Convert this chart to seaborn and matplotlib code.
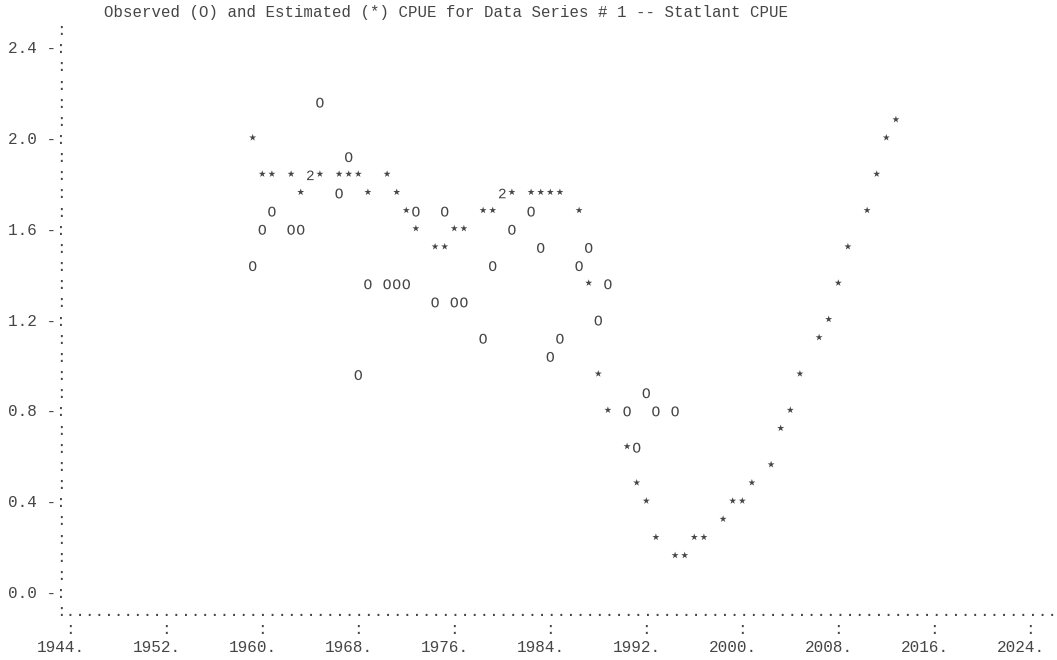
import numpy as np
import seaborn as sns
import matplotlib.pyplot as plt

# Observed CPUE (O), 1959-1994
obs_years = list(range(1959, 1995))
obs_cpue = [1.44, 1.60, 1.68, 1.60, 1.60, 1.84, 2.16, 1.76, 1.92, 0.96,
            1.36, 1.36, 1.36, 1.36, 1.68, 1.28, 1.68, 1.28, 1.28, 1.12,
            1.44, 1.76, 1.60, 1.68, 1.52, 1.04, 1.12, 1.44, 1.52, 1.20,
            1.36, 0.80, 0.64, 0.88, 0.80, 0.80]

# Estimated CPUE (*), 1959-2013
est_years = list(range(1959, 2014))
est_cpue = [2.00, 1.84, 1.84, 1.84, 1.76, 1.84, 1.84, 1.84, 1.84, 1.84,
            1.76, 1.84, 1.76, 1.68, 1.60, 1.52, 1.52, 1.60, 1.60, 1.68,
            1.68, 1.76, 1.76, 1.76, 1.76, 1.76, 1.76, 1.68, 1.36, 0.96,
            0.80, 0.64, 0.48, 0.40, 0.24, 0.16, 0.16, 0.24, 0.24, 0.32,
            0.40, 0.40, 0.48, 0.56, 0.72, 0.80, 0.96, 1.12, 1.20, 1.36,
            1.52, 1.68, 1.84, 2.00, 2.08]

x_ticks = list(range(1944, 2025, 8))
title = "Observed (O) and Estimated (*) CPUE for Data Series # 1 -- Statlant CPUE"

# ascii grid: one column = 0.8 yr, one row = 0.08 CPUE
COL = 0.8
ROW = 0.08
ink = "#454545"

sns.set_theme(style="white")
plt.rcParams["font.family"] = ["Liberation Mono", "DejaVu Sans Mono"]
plt.rcParams["mathtext.fontset"] = "custom"
plt.rcParams["mathtext.rm"] = "Liberation Mono"


def snap_year(y):
    # column the old line-printer plot would put this year in
    return 1944 + COL * np.floor((np.asarray(y) - 1944) / COL + 0.5)


def col_x(c):
    # left edge of text column c (column -19 is 1944)
    return 1944 + (c + 19) * COL - COL / 2


def put(c, r, s, size=11.52):
    ax.text(col_x(c), r * ROW - 0.022, s, ha="left", va="baseline",
            fontsize=size, color=ink)


fig = plt.figure(figsize=(10.57, 6.60), dpi=100)
ax = fig.add_axes([0, 0, 1, 1])
ax.set_xlim(1938.142, 2026.225)
ax.set_ylim(-0.2952, 2.6123)
ax.axis("off")

obs_x = snap_year(obs_years)
est_x = snap_year(est_years)
obs = dict(zip(obs_x, np.round(obs_cpue, 2)))
est = dict(zip(est_x, np.round(est_cpue, 2)))

# cells holding both an O and a * print as "2"
both = [x for x in obs if x in est and obs[x] == est[x]]
o_only = [(x, v) for x, v in obs.items() if x not in both]
e_only = [(x, v) for x, v in est.items() if x not in both]

sns.scatterplot(x=[p[0] for p in o_only], y=[p[1] for p in o_only],
                marker=r"$\mathrm{O}$", s=52, color=ink, edgecolor="none",
                linewidth=0, ax=ax)
sns.scatterplot(x=[p[0] for p in e_only], y=[p[1] + 0.006 for p in e_only],
                marker="*", s=28, color=ink, edgecolor="none",
                linewidth=0, ax=ax)
sns.scatterplot(x=both, y=[obs[x] for x in both],
                marker=r"$\mathrm{2}$", s=48, color=ink, edgecolor="none",
                linewidth=0, ax=ax)

# left axis made of colons, with labels every 5 rows
for r in range(0, 32):
    if r % 5 == 0:
        lab = f"{r * ROW:.1f} -:"
        put(-20 - len(lab) + 1, r, lab)
    else:
        put(-20, r, ":")

# bottom axis line, ticks and year labels
put(-20, -1, ":" + "." * 103)
for i, yr in enumerate(x_ticks):
    c = -19 + 10 * i
    put(c, -2, ":")
    put(c - 3, -3, f"{yr}.")

put(-15, 32, title, size=11.3)

fig.savefig("out.png", dpi=100)
